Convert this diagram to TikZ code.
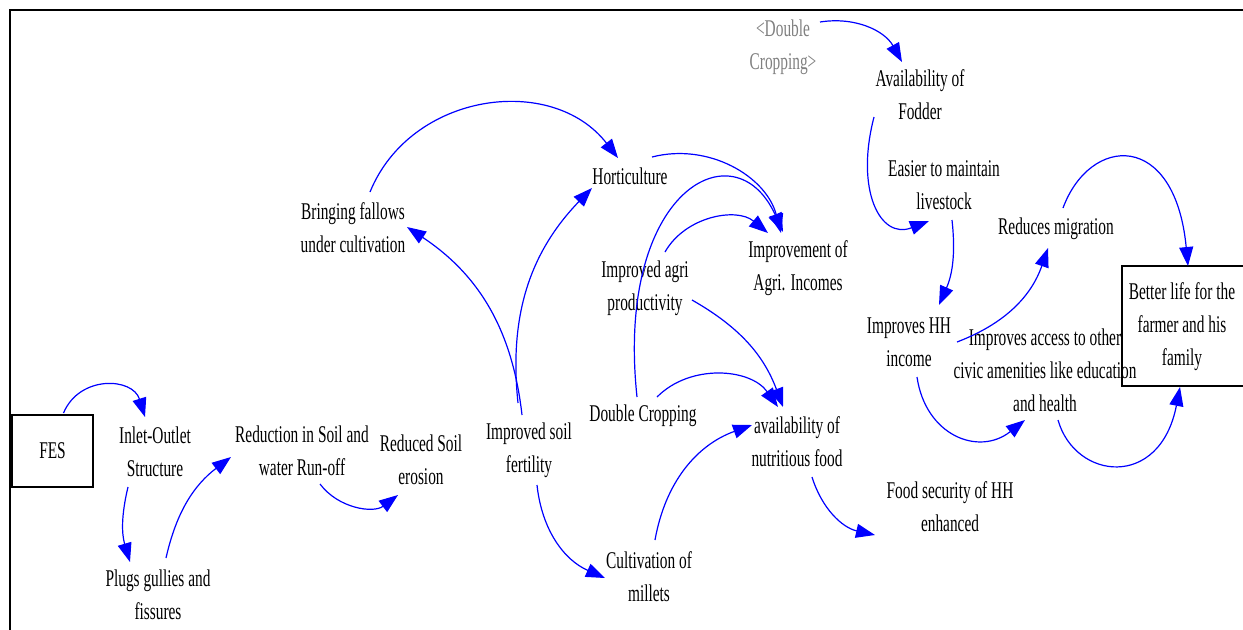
\documentclass[tikz,border=0pt]{standalone}
\usepackage{fontspec}
\setmainfont{Liberation Serif}[FakeStretch=0.64]
\usetikzlibrary{arrows.meta,calc}
\definecolor{linkblue}{RGB}{0,0,255}
\definecolor{ghost}{RGB}{128,128,128}
\tikzset{
  var/.style={inner sep=0pt,align=center,font=\fontsize{12}{16.5}\selectfont},
  boxvar/.style={var,draw,line width=0.8pt},
  link/.style={draw=linkblue,line width=0.6pt,-{Triangle[length=9.5pt,width=7pt]}},
}
\begin{document}
\begin{tikzpicture}[x=0.5pt,y=-0.5pt]
\useasboundingbox (0,0) rectangle (1243,629);
\clip (0,0) rectangle (1243,629);
\fill[white] (0,0) rectangle (1243,629);
\draw[line width=1.1pt] (10,10) rectangle (1300,700);

% nodes
\node[boxvar,minimum width=40.5pt,minimum height=36pt] (fes) at (52.5,451) {FES};
\node[var] (inlet) at (155,452) {Inlet-Outlet\\Structure};
\node[var] (plugs) at (158,595) {Plugs gullies and\\fissures};
\node[var] (reduction) at (302,451) {Reduction in Soil and\\water Run-off};
\node[var] (reduced) at (421,460) {Reduced Soil\\erosion};
\node[var] (fertility) at (529,450) {Improved soil\\fertility};
\node[var] (fallows) at (353,228) {Bringing fallows\\under cultivation};
\node[var] (horti) at (630,176) {Horticulture};
\node[var] (agriprod) at (645,288) {Improved agri\\productivity};
\node[var] (agriinc) at (798,268) {Improvement of\\Agri. Incomes};
\node[var] (dcrop) at (643,416) {Double Cropping};
\node[var] (nutri) at (797,442) {availability of\\nutritious food};
\node[var] (millets) at (649,577) {Cultivation of\\millets};
\node[var] (foodsec) at (950,507) {Food security of HH\\enhanced};
\node[var,text=ghost] (dcropg) at (783,47) {<Double\\Cropping>};
\node[var] (fodder) at (920,95) {Availability of\\Fodder};
\node[var] (livestock) at (944,185) {Easier to maintain\\livestock};
\node[var] (migration) at (1056,229) {Reduces migration};
\node[var] (hhinc) at (909,342) {Improves HH\\income};
\node[var] (access) at (1045,370) {Improves access to other\\civic amenities like education\\and health};
\node[draw,line width=0.8pt,minimum width=62pt,minimum height=60pt,inner sep=0pt] (better) at (1184,326) {};
\node[var] (bettertext) at (1182,327) {Better life for the\\farmer and his\\family};

% connectors
\draw[link] ($(fes)+(11,-38)$) to[bend left=70,looseness=1.3] ($(inlet)+(-10,-35)$);
\draw[link] ($(inlet)+(-27,35)$) to[bend right=15] ($(plugs)+(-28,-33)$);
\draw[link] ($(plugs)+(8,-37)$) to[bend left=20] ($(reduction)+(-71,6)$);
\draw[link] ($(reduction)+(18,33)$) to[bend right=45] ($(reduced)+(-23,35)$);
\draw[link] ($(fertility)+(-7,-35)$) to[bend right=25] ($(fallows)+(54,-1)$);
\draw[link] ($(fertility)+(-11,-47)$) to[bend left=25] ($(horti)+(-38,12)$);
\draw[link] ($(fallows)+(17,-36)$) to[bend left=60,looseness=1.1] ($(horti)+(-12,-18)$);
\draw[link] ($(fertility)+(8,35)$) to[bend right=30] ($(millets)+(-44,1)$);
\draw[link] ($(millets)+(6,-37)$) to[bend left=30] ($(nutri)+(-45,-17)$);
\draw[link] ($(dcrop)+(-6,-19)$) .. controls ($(dcrop)+(-28,-226)$) and ($(dcrop)+(92,-290)$) .. ($(agriinc)+(-15,-36)$);
\draw[link] ($(dcrop)+(14,-19)$) to[bend left=50] ($(nutri)+(-19,-35)$);
\draw[link] ($(agriprod)+(20,-36)$) to[bend left=50] ($(agriinc)+(-30,-35)$);
\draw[link] ($(agriprod)+(47,12)$) to[bend left=20] ($(nutri)+(-14,-35)$);
\draw[link] ($(horti)+(22,-19)$) to[bend left=45] ($(agriinc)+(-17,-35)$);
\draw[link] ($(nutri)+(15,35)$) to[bend right=30] ($(foodsec)+(-75,28)$);
\draw[link] ($(dcropg)+(37,-25)$) to[bend left=35] ($(fodder)+(-18,-33)$);
\draw[link] ($(fodder)+(-46,22)$) .. controls ($(fodder)+(-65,95)$) and ($(fodder)+(-40,145)$) .. ($(livestock)+(-15,36)$);
\draw[link] ($(livestock)+(8,35)$) to[bend left=15] ($(hhinc)+(30,-37)$);
\draw[link] ($(hhinc)+(48,0)$) to[bend right=25] ($(migration)+(-8,19)$);
\draw[link] ($(migration)+(7,-21)$) .. controls ($(migration)+(34,-94)$) and ($(better)+(-9,-196)$) .. ($(better)+(4,-60)$);
\draw[link] ($(hhinc)+(8,35)$) to[bend right=60,looseness=1.3] ($(access)+(-20,50)$);
\draw[link] ($(access)+(13,50)$) .. controls ($(access)+(30,110)$) and ($(better)+(-24,164)$) .. ($(better)+(-4,61)$);
\end{tikzpicture}
\end{document}
